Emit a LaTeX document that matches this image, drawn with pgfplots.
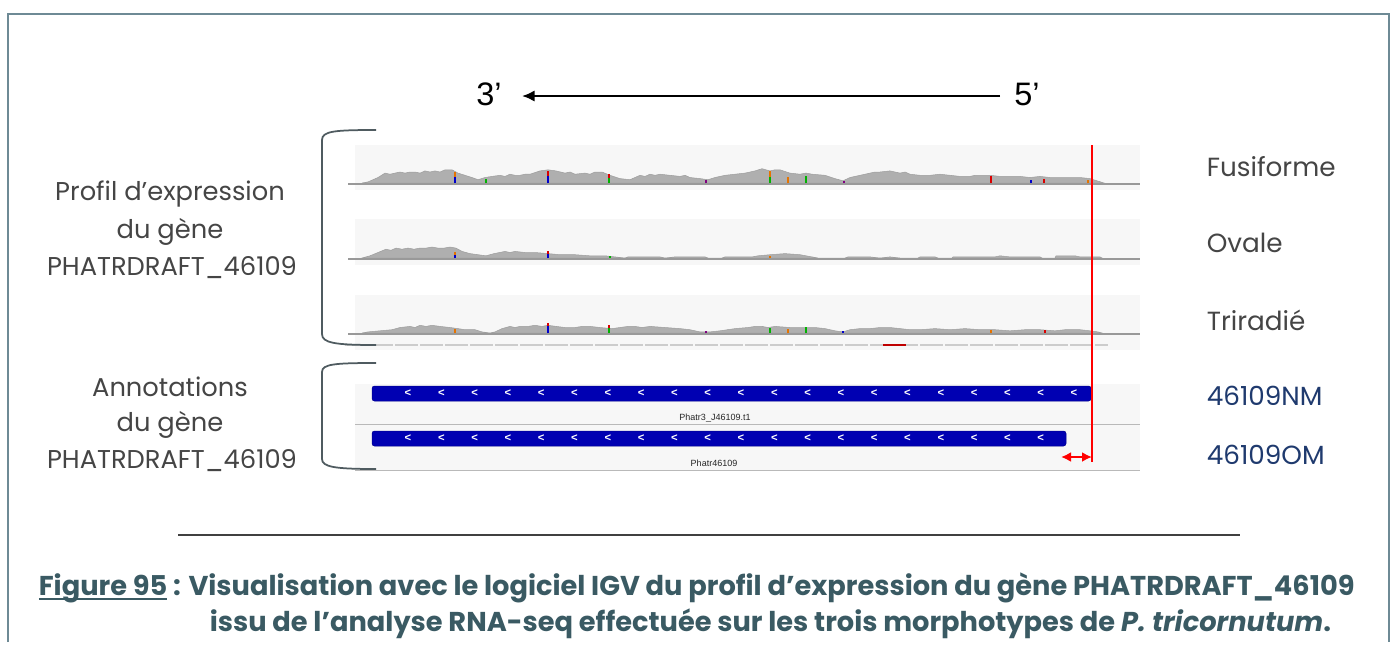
\documentclass[border=0pt]{standalone}
\usepackage{pgfplots}
\pgfplotsset{compat=1.18}
\usepackage{pgfplotstable}
\usetikzlibrary{arrows.meta}
\usepackage{fontspec}
\setmainfont{Poppins}
\newfontfamily\arial{Liberation Sans}
\definecolor{frame}{HTML}{6E8A95}
\definecolor{capcol}{HTML}{3A5A63}
\definecolor{labcol}{HTML}{454545}
\definecolor{navy}{HTML}{1F3A6E}
\definecolor{igvblue}{HTML}{0000B2}
\definecolor{covgray}{HTML}{AFAFAF}
\definecolor{panel}{HTML}{F7F7F7}
\definecolor{brk}{HTML}{4F5B60}
\newcommand\ul[1]{\setbox0\hbox{#1}\rlap{\rule[-1.7pt]{\wd0}{0.9pt}}\box0\relax}

\pgfplotstableread{
x h
362 0
368 1
378 5
385 9
390 8
395 9
400 10
405 9
410 10
415 10
420 9
425 11
430 10
435 11
440 10
445 12
452 12
458 9
465 7
472 5
478 3
485 5
492 6
500 7
505 6
510 8
515 7
520 7
525 8
530 8
540 11
548 12
556 11
565 9
570 10
575 8
585 9
590 8
595 10
602 10
610 7
620 4
630 3
640 7
645 6
650 8
655 7
660 8
670 7
680 6
685 7
690 5
700 4
708 3
715 5
725 7
735 8
745 9
750 10
755 11
762 13
770 11
775 12
780 12
790 9
800 8
806 9
812 8
825 7
835 4
843 2
850 5
860 7
865 8
870 9
875 10
880 10
890 11
900 9
905 10
910 8
920 7
930 7
940 8
950 7
960 6
970 6
975 7
980 7
990 7
1000 6
1010 6
1020 6
1030 5
1040 6
1050 5
1060 5
1070 5
1080 5
1090 4
1097 2
1104 0
}\fusiforme

\pgfplotstableread{
x h
362 0
370 2
378 5
386 8
391 7
396 9
402 8
408 9
414 8
420 9
426 9
432 10
438 9
444 9
450 10
456 9
462 6
470 4
478 3
486 2
494 4
505 6
510 5
515 6
525 5
535 5
548 4
560 3
575 3
590 2
605 2
615 1
625 0
628 1
660 1
665 0
675 1
705 1
708 0
722 0
725 1
752 1
758 2
770 3
785 4
800 3
812 1
818 0
845 0
848 1
870 1
880 0
890 1
900 0
918 0
920 1
935 1
938 0
952 0
953 1
995 1
1000 2
1010 1
1040 1
1042 0
1055 0
1056 2
1075 2
1080 1
1100 1
1102 0
}\ovale

\pgfplotstableread{
x h
362 0
368 1
380 2
392 3
400 5
410 6
415 5
420 7
426 6
432 7
440 6
450 5
458 4
465 3
475 3
482 1
490 0
495 1
502 4
510 6
515 5
520 6
528 6
535 7
542 6
548 7
556 6
565 5
575 5
582 6
590 6
600 5
612 4
620 5
628 6
635 6
642 5
650 6
665 5
680 4
690 3
700 1
710 1
720 2
735 4
748 5
755 6
762 6
768 5
775 6
790 5
805 5
815 5
825 4
835 2
843 1
850 3
860 4
870 4
880 5
890 5
900 4
910 3
920 3
935 4
950 3
965 4
980 3
995 3
1010 2
1025 3
1040 3
1055 2
1065 3
1080 3
1090 2
1098 1
1102 0
}\triradie

\begin{document}
\begin{tikzpicture}
\begin{axis}[
  scale only axis, width=558.4pt, height=256.8pt,
  xmin=0, xmax=1396, ymin=0, ymax=642, y dir=reverse,
  axis lines=none, clip=false, unbounded coords=jump,
]
% background + frame
\fill[white] (axis cs:0,0) rectangle (axis cs:1396,642);
\addplot[frame, line width=0.6pt] coordinates {(8,642)(8,14)(1389,14)(1389,642)};

% header 3' <---- 5'
\addplot[black, line width=0.9pt, -{Latex[length=5pt,width=4.5pt]}] coordinates {(1000,96)(522,96)};
\node[font=\arial\fontsize{13}{15}\selectfont] at (axis cs:489,94) {3’};
\node[font=\arial\fontsize{13}{15}\selectfont] at (axis cs:1027,94) {5’};

% panels
\fill[panel] (axis cs:355,145) rectangle (axis cs:1140,190);
\fill[panel] (axis cs:355,219) rectangle (axis cs:1140,265);
\fill[panel] (axis cs:355,295) rectangle (axis cs:1140,350);
\fill[panel] (axis cs:355,384) rectangle (axis cs:1140,471);

% coverage tracks
\addplot[fill=covgray, draw=covgray!90!black, line width=0.2pt] table[x=x, y expr=183-1.1*\thisrow{h}] {\fusiforme} -- cycle;
\addplot[fill=covgray, draw=covgray!90!black, line width=0.2pt] table[x=x, y expr=258-1.1*\thisrow{h}] {\ovale} -- cycle;
\addplot[fill=covgray, draw=covgray!90!black, line width=0.2pt] table[x=x, y expr=333-1.1*\thisrow{h}] {\triradie} -- cycle;
% baselines
\addplot[gray!80, line width=0.5pt] coordinates {(348,184)(1140,184)};
\addplot[gray!80, line width=0.5pt] coordinates {(348,259)(1140,259)};
\addplot[gray!80, line width=0.5pt] coordinates {(348,334)(1140,334)};

% mismatch ticks
\addplot[blue!80!black, line width=0.7pt] coordinates {(455,183)(455,177)(455,nan)(548,183)(548,176)(548,nan)(1031,183)(1031,180)(1031,nan)
  (455,258)(455,255)(455,nan)(548,258)(548,254)(548,nan)(548,333)(548,326)(548,nan)(843,333)(843,331)};
\addplot[red!85!black, line width=0.7pt] coordinates {(548,176)(548,171)(548,nan)(609,178)(609,174)(609,nan)(991,183)(991,176)(991,nan)(1044,183)(1044,179)(1044,nan)
  (548,254)(548,251)(548,nan)(548,326)(548,323)(548,nan)(609,328)(609,325)(609,nan)(1045,333)(1045,330)};
\addplot[green!70!black, line width=0.7pt] coordinates {(486,183)(486,179)(486,nan)(609,183)(609,178)(609,nan)(770,183)(770,177)(770,nan)(806,183)(806,176)(806,nan)
  (609,333)(609,328)(609,nan)(770,333)(770,328)(770,nan)(806,333)(806,327)(806,nan)(610,258)(610,256)};
\addplot[orange!90!black, line width=0.7pt] coordinates {(455,177)(455,172)(455,nan)(770,177)(770,171)(770,nan)(788,183)(788,177)(788,nan)(1088,183)(1088,180)(1088,nan)
  (455,255)(455,252)(455,nan)(770,258)(770,256)(770,nan)(455,333)(455,329)(455,nan)(788,333)(788,329)(788,nan)(991,333)(991,330)};
\addplot[violet, line width=0.7pt] coordinates {(706,183)(706,180)(706,nan)(844,183)(844,181)(844,nan)(706,333)(706,331)};

% gene line below Triradie
\addplot[gray!40, line width=0.5pt, dash pattern=on 9pt off 1pt] coordinates {(345,345)(1108,345)};
\addplot[red!75!black, line width=0.8pt] coordinates {(883,345)(906,345)};

% annotation track
\addplot[gray!55, line width=0.4pt] coordinates {(355,424)(1140,424)};
\addplot[gray!55, line width=0.4pt] coordinates {(355,470)(1140,470)};
\addplot[fill=igvblue, draw=igvblue!80!black, line width=0.2pt, rounded corners=1pt] coordinates {(372,386)(1091,386)(1091,401)(372,401)} -- cycle;
\addplot[fill=igvblue, draw=igvblue!80!black, line width=0.2pt, rounded corners=1pt] coordinates {(372,431)(1066,431)(1066,446)(372,446)} -- cycle;
\addplot[only marks, mark=text, text mark={\textcolor{white}{\arial\fontsize{4.5}{5}\selectfont\bfseries <}}] coordinates {
(408,393.5)(441.3,393.5)(474.6,393.5)(507.9,393.5)(541.2,393.5)(574.5,393.5)(607.8,393.5)(641.1,393.5)(674.4,393.5)(707.7,393.5)(741,393.5)
(774.3,393.5)(807.6,393.5)(840.9,393.5)(874.2,393.5)(907.5,393.5)(940.8,393.5)(974.1,393.5)(1007.4,393.5)(1040.7,393.5)(1074,393.5)};
\addplot[only marks, mark=text, text mark={\textcolor{white}{\arial\fontsize{4.5}{5}\selectfont\bfseries <}}] coordinates {
(408,438.5)(441.3,438.5)(474.6,438.5)(507.9,438.5)(541.2,438.5)(574.5,438.5)(607.8,438.5)(641.1,438.5)(674.4,438.5)(707.7,438.5)(741,438.5)
(774.3,438.5)(807.6,438.5)(840.9,438.5)(874.2,438.5)(907.5,438.5)(940.8,438.5)(974.1,438.5)(1007.4,438.5)(1040.7,438.5)};
\node[font=\arial\fontsize{3.6}{4}\selectfont, text=black!85] at (axis cs:715,418) {Phatr3\_J46109.t1};
\node[font=\arial\fontsize{3.6}{4}\selectfont, text=black!85] at (axis cs:714,463) {Phatr46109};

% red marker line and double arrow
\addplot[red, line width=0.8pt] coordinates {(1092,145)(1092,462)};
\addplot[red, line width=0.8pt, {Latex[length=4pt,width=4pt]}-{Latex[length=4pt,width=4pt]}] coordinates {(1061,457)(1092,457)};

% brackets
\draw[brk, line width=0.7pt] (axis cs:376,130) .. controls (axis cs:335,130) and (axis cs:322,131) .. (axis cs:322,140) -- (axis cs:322,334) .. controls (axis cs:322,343) and (axis cs:335,345) .. (axis cs:376,345);
\draw[brk, line width=0.7pt] (axis cs:376,363) .. controls (axis cs:335,363) and (axis cs:322,364) .. (axis cs:322,372) -- (axis cs:322,459) .. controls (axis cs:322,467) and (axis cs:335,469) .. (axis cs:376,469);

% left labels
\node[font=\fontsize{10.3}{12}\selectfont, text=labcol] at (axis cs:170,194) {Profil d’expression};
\node[font=\fontsize{10.3}{12}\selectfont, text=labcol] at (axis cs:170,232) {du gène};
\node[font=\fontsize{10.3}{12}\selectfont, text=labcol] at (axis cs:172,268) {PHATRDRAFT\_46109};
\node[font=\fontsize{10.3}{12}\selectfont, text=labcol] at (axis cs:170,387) {Annotations};
\node[font=\fontsize{10.3}{12}\selectfont, text=labcol] at (axis cs:170,425) {du gène};
\node[font=\fontsize{10.3}{12}\selectfont, text=labcol] at (axis cs:172,461) {PHATRDRAFT\_46109};

% right labels
\node[font=\fontsize{10.5}{12}\selectfont, text=labcol, anchor=west] at (axis cs:1198,167) {Fusiforme};
\node[font=\fontsize{10.5}{12}\selectfont, text=labcol, anchor=west] at (axis cs:1198,243) {Ovale};
\node[font=\fontsize{10.5}{12}\selectfont, text=labcol, anchor=west] at (axis cs:1198,320) {Triradié};
\node[font=\fontsize{10.5}{12}\selectfont, text=navy, anchor=west] at (axis cs:1198,396) {46109NM};
\node[font=\fontsize{10.5}{12}\selectfont, text=navy, anchor=west] at (axis cs:1198,455) {46109OM};

% rule
\addplot[black!75, line width=0.5pt] coordinates {(178,535)(1240,535)};

% caption
\node[font=\fontsize{10.9}{12}\selectfont\bfseries, text=capcol, anchor=west] at (axis cs:30,588) {\ul{Figure 95} : Visualisation avec le logiciel IGV du profil d’expression du gène PHATRDRAFT\_46109};
\node[font=\fontsize{10.9}{12}\selectfont\bfseries, text=capcol, anchor=west] at (axis cs:201,624) {issu de l’analyse RNA-seq effectuée sur les trois morphotypes de \textit{P. tricornutum}.};
\end{axis}
\end{tikzpicture}
\end{document}
